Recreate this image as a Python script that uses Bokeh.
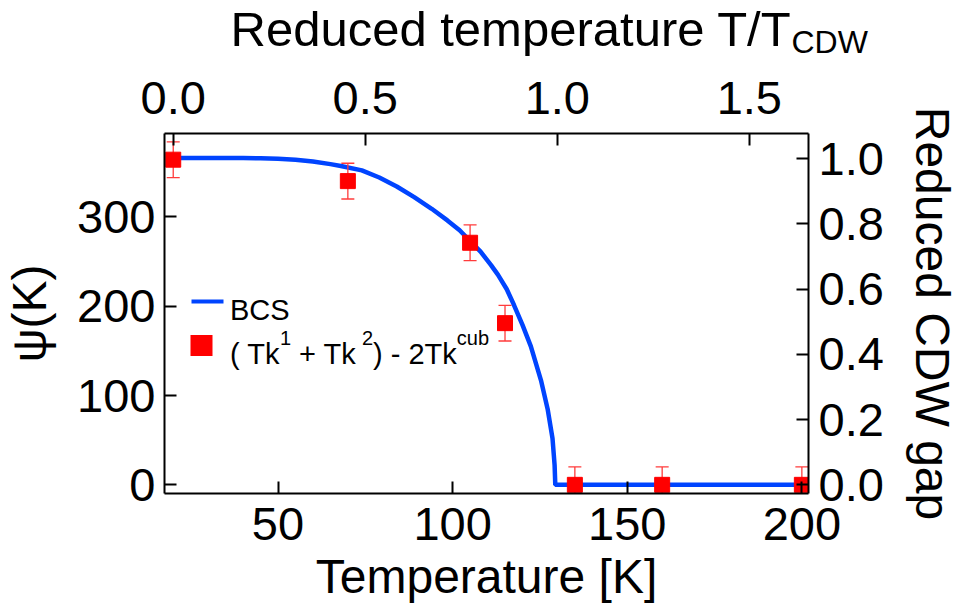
from bokeh.plotting import figure
from bokeh.models import (LinearAxis, Range1d, FixedTicker, NumeralTickFormatter,
                          Label, BoxAnnotation, ColumnDataSource, Title)
from bokeh.embed import file_html
from bokeh.resources import INLINE

# ---------------- data ----------------
temperature_K = [20, 70, 105, 115, 135, 160, 200]
psi_K = [364, 340, 271, 181, 0, 0, 0]
psi_err_K = [20, 20, 20, 20, 20, 20, 20]

bcs_temperature_K = [20, 30, 40, 45, 50, 55, 60, 65, 68, 74, 79, 84, 89, 94, 98.5,
                     102, 105, 108, 111, 113, 115.5, 117.6, 120, 122.4, 125.3, 127.2,
                     128.6, 129.2, 129.4, 135, 160, 200]
bcs_psi_K = [366, 366, 366, 365.5, 365, 364, 362, 359, 357, 352, 344, 334, 322, 309, 296,
             285, 273, 261, 246, 235, 219, 201, 179, 155, 117, 85,
             52, 22, 0, 0, 0, 0]

temperature_ticks = [50, 100, 150, 200]
psi_ticks = [0, 100, 200, 300]
gap_ticks = [0.0, 0.2, 0.4, 0.6, 0.8, 1.0]
reduced_T_ticks = [0.0, 0.5, 1.0, 1.5]

# ---------------- layout constants ----------------
X_MIN, X_MAX = 17.5, 201.9
Y_MIN, Y_MAX = -9.7, 393.3
RED_MIN, RED_MAX = -0.0227, 1.654
GAP_MIN, GAP_MAX = -0.0266, 1.0775

W, H = 962, 614
FL, FR, FT, FB = 164, 808, 133, 493   # frame edges (px)

FONT = "Liberation Sans"
BLUE = "#0044ff"
RED = "#ff0000"
ERR_RED = "#ff3b3b"


def dx(px):
    return X_MIN + (px - FL) * (X_MAX - X_MIN) / (FR - FL)


def dy(py):
    return Y_MIN + (FB - py) * (Y_MAX - Y_MIN) / (FB - FT)


p = figure(width=W, height=H,
           x_range=Range1d(X_MIN, X_MAX), y_range=Range1d(Y_MIN, Y_MAX),
           output_backend="svg", toolbar_location=None,
           min_border_left=FL, min_border_right=W - FR,
           min_border_top=FT, min_border_bottom=H - FB,
           x_axis_label="Temperature [K]", y_axis_label="ψ(K)")
p.extra_x_ranges = {"reduced": Range1d(RED_MIN, RED_MAX)}
p.extra_y_ranges = {"gap": Range1d(GAP_MIN, GAP_MAX)}

p.xgrid.visible = False
p.ygrid.visible = False
p.outline_line_color = None
p.background_fill_color = "white"
p.border_fill_color = "white"

top_axis = LinearAxis(x_range_name="reduced")
right_axis = LinearAxis(y_range_name="gap", axis_label="Reduced CDW gap")
p.add_layout(top_axis, "above")
p.add_layout(right_axis, "right")

bottom_axis = p.below[0]
left_axis = p.left[0]
bottom_axis.ticker = FixedTicker(ticks=temperature_ticks)
left_axis.ticker = FixedTicker(ticks=psi_ticks)
top_axis.ticker = FixedTicker(ticks=reduced_T_ticks)
top_axis.formatter = NumeralTickFormatter(format="0.0")
right_axis.ticker = FixedTicker(ticks=gap_ticks)
right_axis.formatter = NumeralTickFormatter(format="0.0")

for ax in [bottom_axis, left_axis, top_axis, right_axis]:
    ax.axis_line_color = "black"
    ax.axis_line_width = 2
    ax.major_tick_line_color = "black"
    ax.major_tick_line_width = 2
    ax.major_tick_in = 12
    ax.major_tick_out = 0
    ax.minor_tick_in = 0
    ax.minor_tick_out = 0
    ax.minor_tick_line_color = None
    ax.major_label_text_font = FONT
    ax.major_label_text_font_size = "47px"
    ax.major_label_text_color = "black"
    ax.axis_label_text_font = FONT
    ax.axis_label_text_font_size = "48px"
    ax.axis_label_text_font_style = "normal"
    ax.axis_label_text_color = "black"

bottom_axis.major_label_standoff = 14
bottom_axis.axis_label_standoff = 7
top_axis.major_label_standoff = 20
left_axis.major_label_standoff = 9
left_axis.axis_label_standoff = 18
right_axis.major_label_standoff = 10
right_axis.axis_label_standoff = 19

# ---------------- top title: Reduced temperature T/T_CDW ----------------
TITLE_SZ = 49
title_main = "Reduced temperature T/T"
title_x = 230
ARIAL_T = {'R': 722, 'e': 556, 'd': 556, 'u': 556, 'c': 500, ' ': 278, 't': 278,
           'm': 833, 'p': 556, 'r': 333, 'a': 556, 'T': 611, '/': 278}
cdw_x = title_x + sum(ARIAL_T[c] for c in title_main) * TITLE_SZ / 1000.0

# subscript row (next to the axis); the empty second line only shrinks the row
p.add_layout(Title(text="CDW\n", align="left", offset=cdw_x - FL,
                   vertical_align="top", standoff=-24, text_line_height=0.8,
                   text_font=FONT, text_font_size="32px",
                   text_font_style="normal", text_color="black"), "above")
p.add_layout(Title(text=title_main, align="left", offset=title_x - FL,
                   vertical_align="bottom", standoff=-40,
                   text_font=FONT, text_font_size=f"{TITLE_SZ}px",
                   text_font_style="normal", text_color="black"), "above")

# ---------------- marks ----------------
p.line(bcs_temperature_K, bcs_psi_K, line_color=BLUE, line_width=4.5)

err_src = ColumnDataSource(dict(
    T=temperature_K,
    lo=[v - e for v, e in zip(psi_K, psi_err_K)],
    hi=[v + e for v, e in zip(psi_K, psi_err_K)],
))
p.segment(x0="T", y0="lo", x1="T", y1="hi", source=err_src,
          line_color=ERR_RED, line_width=1.3)
p.scatter(x="T", y="lo", source=err_src, marker="dash", size=13,
          line_color=ERR_RED, line_width=1.3)
p.scatter(x="T", y="hi", source=err_src, marker="dash", size=13,
          line_color=ERR_RED, line_width=1.3)
p.scatter(temperature_K, psi_K, marker="square", size=15,
          fill_color=RED, line_color=RED)

# ---------------- legend (hand built) ----------------
p.add_layout(BoxAnnotation(left=dx(191), right=dx(223), bottom=dy(303), top=dy(299),
                           fill_color=BLUE, fill_alpha=1, line_color=None))
p.add_layout(BoxAnnotation(left=dx(190), right=dx(212), bottom=dy(355.5), top=dy(334.5),
                           fill_color=RED, fill_alpha=1, line_color=None))

p.add_layout(Label(x=dx(229.5), y=dy(309.3), text="BCS", text_font=FONT,
                   text_font_size="29px", text_color="black",
                   text_align="left", text_baseline="alphabetic"))

ARIAL = {'(': 333, ')': 333, ' ': 278, 'T': 611, 'k': 500, '+': 584, '-': 333,
         '1': 556, '2': 556, 'c': 500, 'u': 556, 'b': 556}
MAIN, SUP = 29, 20
segments = [("( Tk", MAIN), ("1", SUP), (" + Tk", MAIN), (" 2", SUP),
            (") - 2Tk", MAIN), ("cub", SUP)]
xpos = 229.5
for txt, sz in segments:
    base = 353 if sz == MAIN else 337
    lead = len(txt) - len(txt.lstrip(" "))
    xpos += lead * ARIAL[' '] * sz / 1000.0
    body = txt.lstrip(" ")
    p.add_layout(Label(x=dx(xpos), y=dy(base), text=body, text_font=FONT,
                       text_font_size=f"{sz}px", text_color="black",
                       text_align="left", text_baseline="alphabetic"))
    xpos += sum(ARIAL[c] for c in body) * sz / 1000.0

open("out.html", "w").write(file_html(p, INLINE))
